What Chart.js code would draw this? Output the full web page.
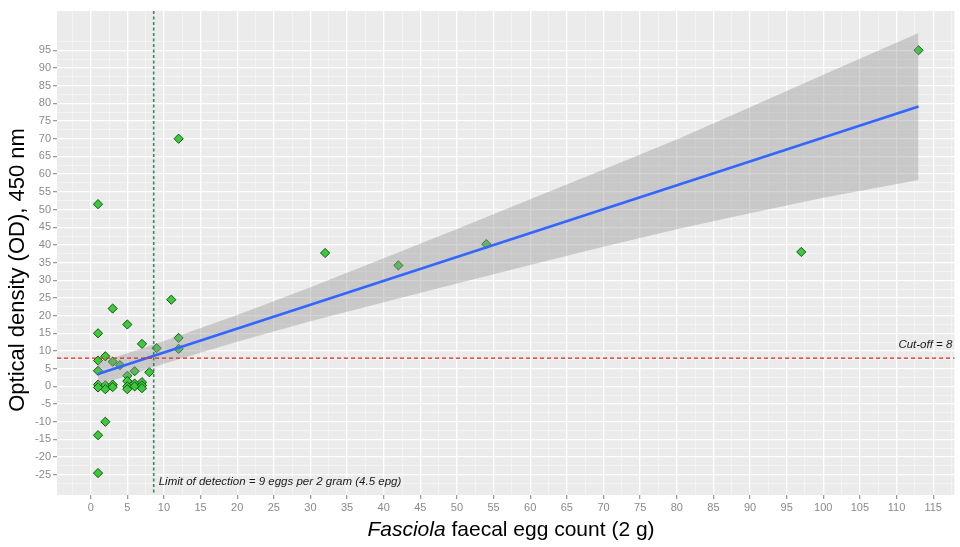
<!DOCTYPE html>
<html>
<head>
<meta charset="utf-8">
<script src="https://cdn.jsdelivr.net/npm/chart.js@4.4.1/dist/chart.umd.min.js"></script>
<style>
  html, body { margin: 0; padding: 0; background: #fff; }
  #wrap { width: 960px; height: 547px; }
</style>
</head>
<body>
<div id="wrap"><canvas id="c-egg" width="960" height="547"></canvas></div>
<script>
// egg count (2 g) vs OD readings
const eggCount = [1, 1, 1, 1, 1, 1, 1, 1, 2, 2, 2, 2, 3, 3, 3, 3, 4, 5, 5, 5, 5, 5,
  6, 6, 6, 7, 7, 7, 7, 8, 9, 11, 12, 12, 12, 32, 42, 54, 97, 113];
const odValue  = [51.5, 15, 7.3, 4.4, 0.5, -0.3, -13.8, -24.5, 8.5, 0.3, -0.8, -10, 22, 7, 0.5, -0.2, 6, 17.5, 3, 1.5, 0, -0.8,
  4.3, 0.8, 0, 12, 1.2, 0.3, -0.5, 4, 10.8, 24.5, 70, 13.7, 10.6, 37.7, 34.2, 40.2, 38, 95];

// fitted line and its confidence band
const fitX   = [1, 113];
const fitY   = [3.5, 79.1];
const bandX  = [1, 5, 10, 15, 20, 30, 40, 50, 60, 70, 80, 90, 100, 113];
const bandHi = [6.7, 9.4, 12.8, 16.5, 20.2, 28.0, 36.2, 44.5, 52.9, 61.3, 69.8, 78.9, 88.1, 99.9];
const bandLo = [0.3, 3.0, 6.4, 9.5, 12.6, 18.4, 23.8, 29.1, 34.3, 39.5, 44.4, 48.9, 53.3, 58.3];

const xTicks = [0, 5, 10, 15, 20, 25, 30, 35, 40, 45, 50, 55, 60, 65, 70, 75, 80, 85, 90, 95, 100, 105, 110, 115];
const yTicks = [-25, -20, -15, -10, -5, 0, 5, 10, 15, 20, 25, 30, 35, 40, 45, 50, 55, 60, 65, 70, 75, 80, 85, 90, 95];

const lodX   = 8.6;
const cutOff = 8;

const FONT = '"Liberation Sans", Arial, Helvetica, sans-serif';

// minor grid halfway between breaks, plus one step outside each end
function withMinor(major) {
  const step = major[1] - major[0];
  const out = [major[0] - step / 2];
  major.forEach(v => { out.push(v); out.push(v + step / 2); });
  return out;
}
const xGrid = withMinor(xTicks);
const yGrid = withMinor(yTicks);
const isMajX = v => xTicks.includes(v);
const isMajY = v => yTicks.includes(v);

const pts = eggCount.map((x, i) => ({ x, y: odValue[i] }));

const overlay = {
  id: 'overlay',
  beforeDraw(chart) {
    const { ctx, chartArea: a } = chart;
    ctx.save();
    ctx.fillStyle = '#ebebeb';
    ctx.fillRect(a.left, a.top, a.right - a.left, a.bottom - a.top);
    ctx.restore();
  },
  afterDatasetsDraw(chart) {
    const { ctx, chartArea: a, scales: { x, y } } = chart;
    ctx.save();
    const yc = y.getPixelForValue(cutOff);
    ctx.strokeStyle = '#e3261c'; ctx.lineWidth = 1.3; ctx.setLineDash([4, 3]);
    ctx.beginPath(); ctx.moveTo(a.left, yc); ctx.lineTo(a.right, yc); ctx.stroke();

    const xl = x.getPixelForValue(lodX);
    ctx.strokeStyle = '#2f8f55'; ctx.lineWidth = 1.6; ctx.setLineDash([3, 2.5]);
    ctx.beginPath(); ctx.moveTo(xl, a.top); ctx.lineTo(xl, a.bottom); ctx.stroke();
    ctx.setLineDash([]);

    ctx.fillStyle = '#1a1a1a';
    ctx.font = 'italic 11.5px ' + FONT;
    ctx.textBaseline = 'middle';
    ctx.textAlign = 'left';
    ctx.fillText('Limit of detection = 9 eggs per 2 gram (4.5 epg)', xl + 5, y.getPixelForValue(-27));
    ctx.textAlign = 'right';
    ctx.fillText('Cut-off = 8', a.right - 2, yc - 13);
    ctx.restore();
  },
  afterDraw(chart) {
    const { ctx } = chart;
    ctx.save();
    ctx.fillStyle = '#000';
    ctx.textBaseline = 'middle';
    // y title
    ctx.translate(18, 270);
    ctx.rotate(-Math.PI / 2);
    ctx.textAlign = 'center';
    ctx.font = '22px ' + FONT;
    ctx.fillText('Optical density (OD), 450 nm', 0, 0);
    ctx.setTransform(1, 0, 0, 1, 0, 0);
    // x title, genus in italics
    const t1 = 'Fasciola', t2 = ' faecal egg count (2 g)';
    ctx.font = 'italic 21px ' + FONT;
    const w1 = ctx.measureText(t1).width;
    ctx.font = '21px ' + FONT;
    const w2 = ctx.measureText(t2).width;
    const x0 = 511 - (w1 + w2) / 2;
    ctx.textAlign = 'left';
    ctx.font = 'italic 21px ' + FONT;
    ctx.fillText(t1, x0, 530);
    ctx.font = '21px ' + FONT;
    ctx.fillText(t2, x0 + w1, 530);
    ctx.restore();
  },
};

new Chart(document.getElementById('c-egg'), {
  type: 'scatter',
  data: {
    datasets: [
      { label: 'samples', data: pts, order: 3,
        pointStyle: 'rectRot', pointRadius: 4.6, pointHoverRadius: 4.6,
        backgroundColor: '#38cc38', borderColor: '#1d4f1d', borderWidth: 1 },
      { type: 'line', label: 'band hi', data: bandX.map((x, i) => ({ x, y: bandHi[i] })), order: 2,
        fill: '+1', backgroundColor: 'rgba(153,153,153,0.42)', borderWidth: 0, pointRadius: 0, tension: 0 },
      { type: 'line', label: 'band lo', data: bandX.map((x, i) => ({ x, y: bandLo[i] })), order: 2,
        fill: false, borderWidth: 0, pointRadius: 0, tension: 0 },
      { type: 'line', label: 'fit', data: fitX.map((x, i) => ({ x, y: fitY[i] })), order: 1,
        borderColor: '#3366ff', borderWidth: 2.6, pointRadius: 0, fill: false },
    ],
  },
  options: {
    responsive: false, animation: false, devicePixelRatio: 1,
    layout: { padding: { top: 11, right: 0, left: 0, bottom: 0 } },
    plugins: { legend: { display: false }, tooltip: { enabled: false } },
    scales: {
      x: {
        type: 'linear', min: -4.6, max: 117.9,
        afterBuildTicks: s => { s.ticks = xGrid.map(v => ({ value: v })); },
        afterFit: s => { s.height = 52; },
        border: { display: false },
        grid: {
          color: c => isMajX(c.tick.value) ? '#ffffff' : 'rgba(255,255,255,0.65)',
          lineWidth: c => isMajX(c.tick.value) ? 1.3 : 0.6,
          tickColor: c => isMajX(c.tick.value) ? '#9a9a9a' : 'rgba(0,0,0,0)',
          tickLength: 4,
        },
        ticks: { autoSkip: false, maxRotation: 0, padding: 2, color: '#8a8a8a',
          font: { family: FONT, size: 11 },
          callback: v => isMajX(v) ? String(v) : '' },
      },
      y: {
        type: 'linear', min: -30.7, max: 106.1,
        afterBuildTicks: s => { s.ticks = yGrid.map(v => ({ value: v })); },
        afterFit: s => { s.width = 57; },
        border: { display: false },
        grid: {
          color: c => isMajY(c.tick.value) ? '#ffffff' : 'rgba(255,255,255,0.65)',
          lineWidth: c => isMajY(c.tick.value) ? 1.3 : 0.6,
          tickColor: c => isMajY(c.tick.value) ? '#9a9a9a' : 'rgba(0,0,0,0)',
          tickLength: 4,
        },
        ticks: { autoSkip: false, padding: 2, color: '#8a8a8a',
          font: { family: FONT, size: 11 },
          callback: v => isMajY(v) ? String(v) : '' },
      },
    },
  },
  plugins: [overlay],
});
</script>
</body>
</html>
